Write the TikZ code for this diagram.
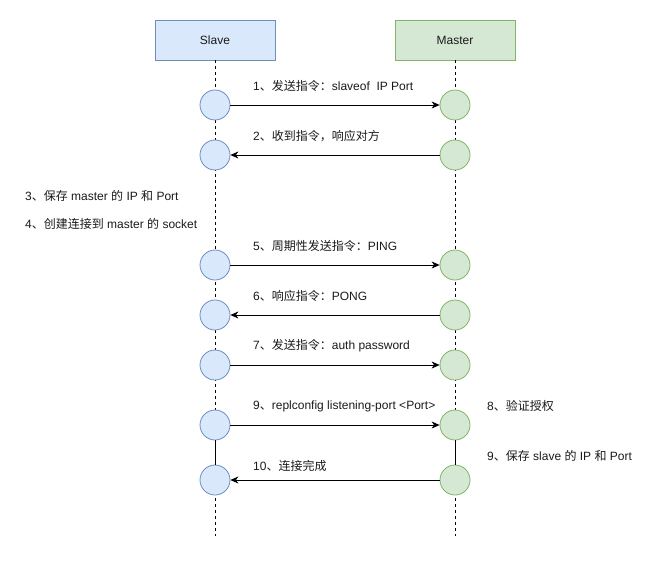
\documentclass[tikz,border=0pt]{standalone}
\usepackage{fontspec}
\setmainfont{Liberation Sans}
\newfontfamily\cjk{Noto Sans CJK SC}
\usetikzlibrary{arrows.meta}
\definecolor{sfill}{HTML}{DAE8FC}
\definecolor{sline}{HTML}{6C8EBF}
\definecolor{mfill}{HTML}{D5E8D4}
\definecolor{mline}{HTML}{82B366}
\definecolor{txt}{HTML}{1A1A1A}
\begin{document}
\begin{tikzpicture}[x=1pt,y=-1pt,
  every node/.style={font=\fontsize{12}{14}\selectfont, text=txt},
  headbox/.style={draw, rectangle, minimum width=120pt, minimum height=40pt, inner sep=0pt, line width=0.8pt},
  shead/.style={headbox, fill=sfill, draw=sline},
  mhead/.style={headbox, fill=mfill, draw=mline},
  scirc/.style={circle, minimum size=30pt, inner sep=0pt, fill=sfill, draw=sline, line width=0.8pt},
  mcirc/.style={circle, minimum size=30pt, inner sep=0pt, fill=mfill, draw=mline, line width=0.8pt},
  life/.style={draw=black, dash pattern=on 3pt off 3pt, line width=0.7pt},
  solidlife/.style={draw=black, line width=0.8pt},
  msg/.style={draw=black, line width=0.8pt, -{Stealth[length=8pt,width=7pt,inset=2.5pt]}},
  lbl/.style={anchor=west, inner sep=0pt}
]
\useasboundingbox (0,0) rectangle (666,562);
\node[shead] (slave) at (215,40) {Slave};
\node[mhead] (master) at (455,40) {Master};
\coordinate (send) at (215,536);
\coordinate (mend) at (455,536);
\draw[life] (slave.south) -- (send);
\draw[life] (master.south) -- (mend);
\foreach \i/\y in {1/105,2/155,3/265,4/315,5/365,6/425,7/480}{
  \node[scirc] (s\i) at (215,\y) {};
  \node[mcirc] (m\i) at (455,\y) {};
}
\draw[solidlife] (s6.south) -- (s7.north);
\draw[solidlife] (m6.south) -- (m7.north);
\draw[msg] (s1) -- (m1);
\draw[msg] (m2) -- (s2);
\draw[msg] (s3) -- (m3);
\draw[msg] (m4) -- (s4);
\draw[msg] (s5) -- (m5);
\draw[msg] (s6) -- (m6);
\draw[msg] (m7) -- (s7);
\node[lbl] (l1) at (253,86) {1{\cjk 、发送指令：}slaveof\ \ IP Port};
\node[lbl] (l2) at (253,136) {2{\cjk 、收到指令，响应对方}};
\node[lbl] (l3) at (25,196) {3{\cjk 、保存} master {\cjk 的} IP {\cjk 和} Port};
\node[lbl] (l4) at (25,224) {4{\cjk 、创建连接到} master {\cjk 的} socket};
\node[lbl] (l5) at (253,246) {5{\cjk 、周期性发送指令：}PING};
\node[lbl] (l6) at (253,296) {6{\cjk 、响应指令：}PONG};
\node[lbl] (l7) at (253,346) {7{\cjk 、发送指令：}auth password};
\node[lbl] (l9a) at (253,406) {9{\cjk 、}replconfig listening-port <Port>};
\node[lbl] (l8) at (487,406) {8{\cjk 、验证授权}};
\node[lbl] (l9b) at (487,456) {9{\cjk 、保存} slave {\cjk 的} IP {\cjk 和} Port};
\node[lbl] (l10) at (253,466) {10{\cjk 、连接完成}};
\end{tikzpicture}
\end{document}
